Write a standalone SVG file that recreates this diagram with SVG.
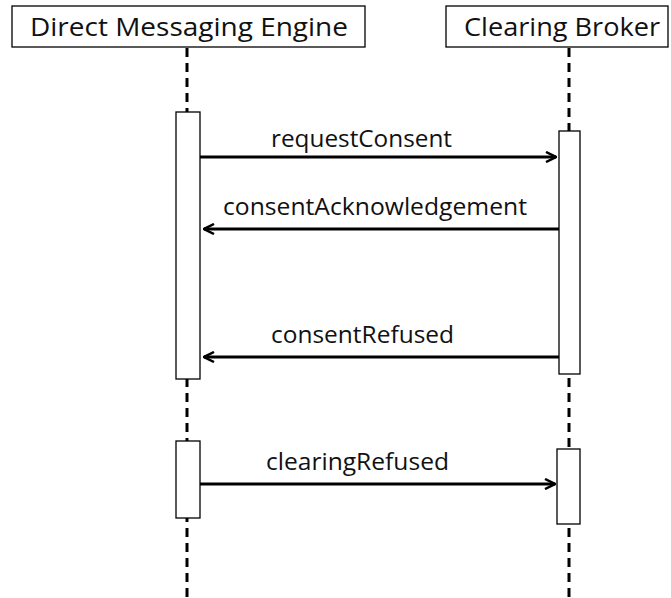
<svg xmlns="http://www.w3.org/2000/svg" width="671" height="598" viewBox="0 0 671 598">
<style>
.hdr{fill:#fff;stroke:#000;stroke-width:1.3}
.ht{font-family:"Open Sans","Liberation Sans",sans-serif;font-size:25px;fill:#111}
.lt{font-family:"Open Sans","Liberation Sans",sans-serif;font-size:23px;fill:#111}
.life{stroke:#000;stroke-width:3;stroke-dasharray:9,6;fill:none}
.act{fill:#fff;stroke:#000;stroke-width:1.3}
.msg{stroke:#000;stroke-width:3;fill:none}
</style>
<defs>
<marker id="ah" viewBox="0 0 12 12" refX="11" refY="6" markerWidth="12" markerHeight="12" markerUnits="userSpaceOnUse" orient="auto">
<path d="M1,1 L11,6 L1,11" fill="none" stroke="#000" stroke-width="2.5"/>
</marker>
</defs>
<g id="lifelines">
<line class="life" x1="187" y1="48" x2="187" y2="598"/>
<line class="life" x1="569" y1="48" x2="569" y2="598"/>
</g>
<g id="dme">
<rect class="hdr" x="12" y="6" width="353" height="41"/>
<text class="ht" x="30" y="36" textLength="318" lengthAdjust="spacingAndGlyphs">Direct Messaging Engine</text>
</g>
<g id="cb">
<rect class="hdr" x="446" y="6" width="222" height="41"/>
<text class="ht" x="464" y="36" textLength="196" lengthAdjust="spacingAndGlyphs">Clearing Broker</text>
</g>
<g id="dme-act1"><rect class="act" x="176" y="112" width="24" height="267"/></g>
<g id="cb-act1"><rect class="act" x="559" y="131" width="21" height="243"/></g>
<g id="dme-act2"><rect class="act" x="176" y="441" width="24" height="77"/></g>
<g id="cb-act2"><rect class="act" x="557" y="449" width="23" height="75"/></g>
<g id="connectors">
<line class="msg" x1="200" y1="157" x2="556" y2="157" marker-end="url(#ah)"/>
<text class="lt" x="271" y="147" textLength="181" lengthAdjust="spacingAndGlyphs">requestConsent</text>
<line class="msg" x1="559" y1="229" x2="204" y2="229" marker-end="url(#ah)"/>
<text class="lt" x="223" y="215" textLength="304" lengthAdjust="spacingAndGlyphs">consentAcknowledgement</text>
<line class="msg" x1="559" y1="357" x2="204" y2="357" marker-end="url(#ah)"/>
<text class="lt" x="271" y="343" textLength="183" lengthAdjust="spacingAndGlyphs">consentRefused</text>
<line class="msg" x1="200" y1="484" x2="555" y2="484" marker-end="url(#ah)"/>
<text class="lt" x="266" y="470" textLength="183" lengthAdjust="spacingAndGlyphs">clearingRefused</text>
</g>
</svg>
